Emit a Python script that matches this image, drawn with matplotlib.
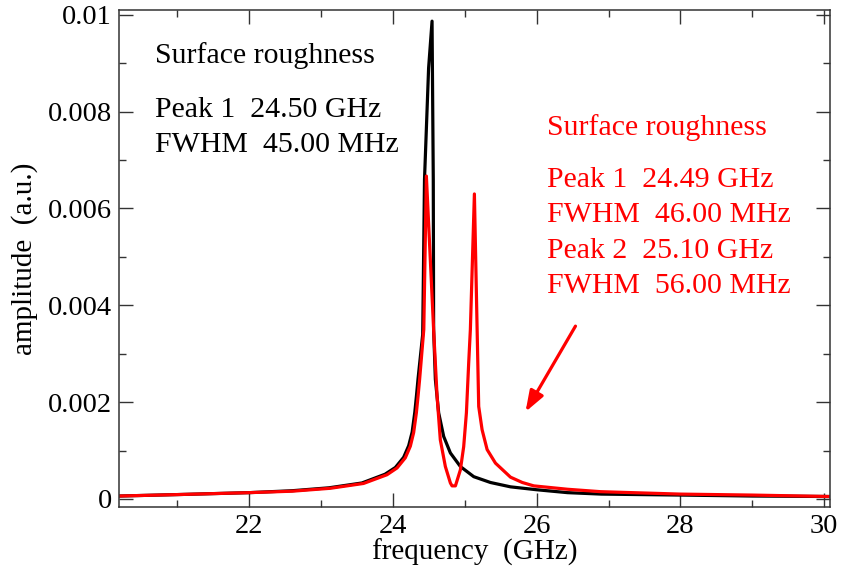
import matplotlib
matplotlib.use('Agg')
import matplotlib.pyplot as plt
from matplotlib.ticker import MultipleLocator, FuncFormatter

plt.rcParams['font.family'] = ['Liberation Serif', 'DejaVu Serif']

# smooth surface (black)
freq_smooth = [20.19, 21.0, 22.0, 22.6, 23.11, 23.57, 23.89, 24.035, 24.15, 24.22, 24.268,
               24.305, 24.328, 24.35, 24.415, 24.44, 24.497, 24.545, 24.562, 24.567,
               24.591, 24.637, 24.707, 24.80, 24.939, 25.125, 25.357, 25.636, 26.0,
               26.43, 26.9, 28.0, 29.0, 30.08]
amp_smooth = [0.00006, 0.00009, 0.00013, 0.00017, 0.00023, 0.00033, 0.00051, 0.00065, 0.00086,
              0.00110, 0.00138, 0.00179, 0.00213, 0.00248, 0.0034, 0.0066, 0.0089,
              0.00987, 0.0066, 0.0035, 0.00247, 0.00178, 0.00129, 0.00095, 0.00067,
              0.00046, 0.00034, 0.00025, 0.00019, 0.00013, 0.00010, 0.00008, 0.00006,
              0.00005]

# rough surface (red)
freq_rough = [20.19, 21.0, 22.0, 22.6, 23.129, 23.592, 23.918, 24.058, 24.173, 24.243,
              24.289, 24.327, 24.35, 24.372, 24.43, 24.466, 24.57, 24.615, 24.66,
              24.73, 24.80, 24.823, 24.87, 24.939, 24.985, 25.023, 25.055, 25.078,
              25.134, 25.172, 25.194, 25.241, 25.311, 25.427, 25.636, 25.8, 25.96,
              26.43, 26.89, 28.0, 29.0, 30.08]
amp_rough = [0.00006, 0.00009, 0.00013, 0.00016, 0.00022, 0.00032, 0.00050, 0.00064, 0.00085,
             0.00109, 0.00137, 0.00178, 0.00212, 0.00247, 0.0035, 0.00667, 0.0034,
             0.00212, 0.00122, 0.00067, 0.00033, 0.00027, 0.00027, 0.00060, 0.00108,
             0.00178, 0.00282, 0.0035, 0.0063, 0.0035, 0.00191, 0.00143, 0.00102,
             0.00074, 0.00045, 0.00034, 0.00027, 0.00020, 0.00015, 0.00010, 0.00008,
             0.00005]

smooth_text = ['Surface roughness', 'Peak 1  24.50 GHz', 'FWHM  45.00 MHz']
rough_text = ['Surface roughness', 'Peak 1  24.49 GHz', 'FWHM  46.00 MHz',
              'Peak 2  25.10 GHz', 'FWHM  56.00 MHz']

fig = plt.figure(figsize=(8.42, 5.75), dpi=100)
ax = fig.add_axes([0.1413, 0.1188, 0.8444, 0.8638])

ax.plot(freq_smooth, amp_smooth, color='black', lw=2.3)
ax.plot(freq_rough, amp_rough, color='red', lw=2.3)

ax.set_xlim(20.19, 30.08)
ax.set_ylim(-0.00016, 0.0101)

ax.xaxis.set_major_locator(MultipleLocator(2))
ax.xaxis.set_minor_locator(MultipleLocator(1))
ax.yaxis.set_major_locator(MultipleLocator(0.002))
ax.yaxis.set_minor_locator(MultipleLocator(0.001))
ax.yaxis.set_major_formatter(FuncFormatter(lambda v, p: '{:g}'.format(round(v, 6))))

ax.tick_params(which='both', direction='in', top=True, right=True,
               labelsize=20.5, color='#333333', width=1.0, pad=5)
ax.tick_params(which='major', length=10)
ax.tick_params(which='minor', length=5)
for s in ax.spines.values():
    s.set_color('#333333')
    s.set_linewidth(1.1)

ax.set_xlabel('frequency  (GHz)', fontsize=21, labelpad=0)
ax.set_ylabel('amplitude  (a.u.)', fontsize=21, labelpad=7)

# annotation text
for txt, yy in zip(smooth_text, [0.893, 0.7845, 0.714]):
    ax.text(0.0506, yy, txt, transform=ax.transAxes, fontsize=21.5,
            color='black', va='baseline')
for txt, yy in zip(rough_text, [0.748, 0.6437, 0.5732, 0.5008, 0.4303]):
    ax.text(0.6015, yy, txt, transform=ax.transAxes, fontsize=21.5,
            color='red', va='baseline')

ax.annotate('', xy=(25.845, 0.0018), xytext=(26.54, 0.00357),
            arrowprops=dict(arrowstyle='-|>,head_length=0.7,head_width=0.25',
                            color='red', lw=2.3, mutation_scale=18,
                            shrinkA=0, shrinkB=0))

fig.savefig('out.png', dpi=100)
